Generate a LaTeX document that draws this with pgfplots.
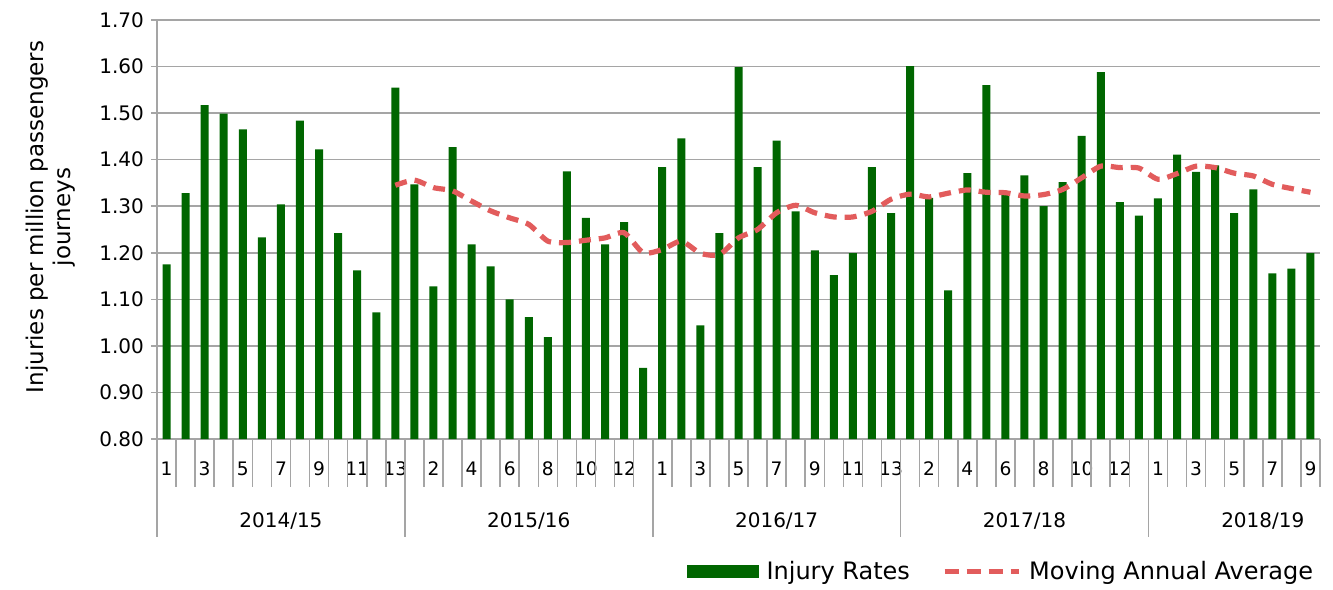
\documentclass[border=0pt]{standalone}
\usepackage{fontspec}
\setmainfont{DejaVu Sans}
\usepackage{pgfplots}
\usepackage{pgfplotstable}
\pgfplotsset{compat=1.18}
\definecolor{barGreen}{RGB}{0,102,0}
\definecolor{maRed}{RGB}{226,92,92}
\definecolor{gridGray}{RGB}{165,165,165}
\pgfplotstableread{
x y
0 1.175
1 1.328
2 1.517
3 1.499
4 1.465
5 1.233
6 1.304
7 1.484
8 1.422
9 1.242
10 1.162
11 1.072
12 1.555
13 1.347
14 1.128
15 1.427
16 1.218
17 1.171
18 1.100
19 1.062
20 1.019
21 1.375
22 1.275
23 1.218
24 1.266
25 0.953
26 1.384
27 1.446
28 1.044
29 1.242
30 1.599
31 1.384
32 1.441
33 1.289
34 1.205
35 1.152
36 1.199
37 1.384
38 1.285
39 1.601
40 1.318
41 1.119
42 1.371
43 1.560
44 1.325
45 1.366
46 1.300
47 1.352
48 1.451
49 1.588
50 1.309
51 1.280
52 1.317
53 1.411
54 1.374
55 1.388
56 1.285
57 1.336
58 1.156
59 1.166
60 1.199
}\injury
\pgfplotstableread{
x y
12 1.345
13 1.356
14 1.340
15 1.333
16 1.311
17 1.290
18 1.275
19 1.261
20 1.225
21 1.222
22 1.227
23 1.232
24 1.243
25 1.200
26 1.207
27 1.225
28 1.199
29 1.196
30 1.232
31 1.250
32 1.286
33 1.302
34 1.286
35 1.277
36 1.277
37 1.289
38 1.315
39 1.326
40 1.320
41 1.328
42 1.335
43 1.330
44 1.329
45 1.322
46 1.325
47 1.336
48 1.361
49 1.386
50 1.383
51 1.382
52 1.358
53 1.370
54 1.386
55 1.383
56 1.371
57 1.365
58 1.347
59 1.338
60 1.330
}\mavg
\begin{document}
\begin{tikzpicture}[font=\fontsize{10pt}{12pt}\selectfont]
\path[use as bounding box] (-78.5pt,-75pt) rectangle (588pt,219.5pt);
\begin{axis}[
  at={(0,0)}, anchor=south west,
  scale only axis, width=581.5pt, height=209.5pt,
  xmin=-0.5, xmax=60.5, ymin=0.8, ymax=1.7,
  axis x line=bottom, axis y line=left,
  axis line style={-, draw=gridGray, line width=0.8pt},
  ytick={0.8,0.9,1.0,1.1,1.2,1.3,1.4,1.5,1.6,1.7},
  yticklabel style={/pgf/number format/.cd, fixed, fixed zerofill, precision=2, assume math mode=true},
  ymajorgrids, grid style={draw=gridGray, line width=0.8pt},
  tick style={draw=gridGray, line width=0.8pt},
  tick align=outside,
  major tick length=3pt,
  xtick={0,2,...,60},
  xticklabels={1,3,5,7,9,11,13,2,4,6,8,10,12,1,3,5,7,9,11,13,2,4,6,8,10,12,1,3,5,7,9},
  x tick style={draw=none},
  x tick label style={yshift=-5pt, font=\fontsize{9.3pt}{11pt}\selectfont},
  ylabel={Injuries per million passengers\\journeys},
  every axis y label/.style={at={(axis description cs:0,0.53)}, xshift=-53pt, rotate=90, anchor=center, align=center, font=\fontsize{11.5pt}{13.5pt}\selectfont},
  clip=false,
  legend style={at={(1.003,-0.317)}, anchor=east, draw=none, fill=none, legend columns=2,
    column sep=0pt, font=\fontsize{12pt}{14pt}\selectfont,
    /tikz/every odd column/.append style={column sep=2pt},
    /tikz/every even column/.append style={column sep=14pt}},
]
\addplot[ybar, bar width=4pt, fill=barGreen, draw=none, bar shift=0pt,
  legend image code/.code={\fill[barGreen] (0pt,-3.2pt) rectangle (36pt,3.2pt);}]
  table[x=x,y=y] {\injury};
\addlegendentry{Injury Rates}
\addplot[maRed, line width=2.6pt, dash pattern=on 6pt off 4pt, smooth, tension=0.4,
  legend image code/.code={\draw[maRed, line width=2.6pt, dash pattern=on 7pt off 4pt] (0pt,0pt) -- (37pt,0pt);}]
  table[x=x,y=y] {\mavg};
\addlegendentry{Moving Annual Average}
\foreach \i in {0,...,61} {
  \pgfmathsetmacro\b{\i-0.5}
  \edef\tmp{\noexpand\draw[gridGray, line width=0.8pt] (axis cs:\b,0.8) -- ++(0pt,-24pt);}
  \tmp
}
\foreach \b in {-0.5,12.5,25.5,38.5,51.5} {
  \edef\tmp{\noexpand\draw[gridGray, line width=0.8pt] (axis cs:\b,0.8) -- ++(0pt,-49pt);}
  \tmp
}
\node at (axis cs:6,0.8) [yshift=-41pt] {2014/15};
\node at (axis cs:19,0.8) [yshift=-41pt] {2015/16};
\node at (axis cs:32,0.8) [yshift=-41pt] {2016/17};
\node at (axis cs:45,0.8) [yshift=-41pt] {2017/18};
\node at (axis cs:57.5,0.8) [yshift=-41pt] {2018/19};
\end{axis}
\end{tikzpicture}
\end{document}
